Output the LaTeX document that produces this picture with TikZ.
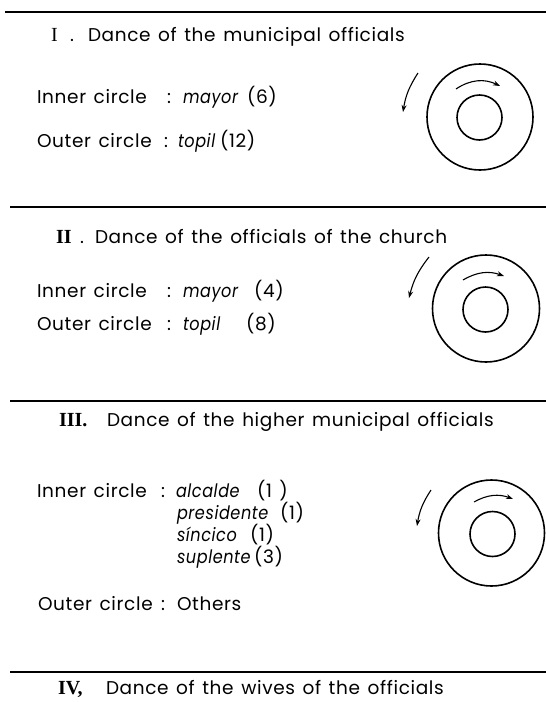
\documentclass[tikz,border=0pt]{standalone}
\usepackage{graphicx}
\usepackage{fontspec}
\setmainfont{Poppins}[LetterSpace=3.5,WordSpace=1.35]
\newfontfamily\numfont{Liberation Serif}
\newcommand\iw[1]{\scalebox{0.87}[1]{\itshape #1}}
\usetikzlibrary{arrows.meta}
\begin{document}
\begin{tikzpicture}[x=1pt,y=-1pt,
  txt/.style={inner sep=0pt, outer sep=0pt, anchor=base west, font=\fontsize{18.5}{20}\selectfont},
  num/.style={inner sep=0pt, outer sep=0pt, anchor=base west, font=\fontsize{20}{22}\numfont},
  rule/.style={line width=1.4pt},
  ring/.style={draw, circle, line width=1.6pt, inner sep=0pt, outer sep=0pt},
  arr/.style={line width=1.1pt, -{Stealth[length=7pt,width=5pt]}}]
\useasboundingbox[fill=white] (0,0) rectangle (546,702);

% rules
\coordinate (l1a) at (5,12);   \coordinate (l1b) at (546,12);
\coordinate (l2a) at (10,207); \coordinate (l2b) at (546,207);
\coordinate (l3a) at (10,401); \coordinate (l3b) at (546,401);
\coordinate (l4a) at (10,672); \coordinate (l4b) at (546,672);
\draw[rule] (l1a) -- (l1b);
\draw[rule] (l2a) -- (l2b);
\draw[rule] (l3a) -- (l3b);
\draw[rule] (l4a) -- (l4b);

% Section I
\node[num] (n1) at (51,41) {I};
\node[txt] (n1d) at (70,41) {.};
\node[txt] (t1) at (88,41) {Dance of the municipal officials};
\node[txt] (i1) at (37,103) {Inner circle};
\node[txt] (i1c) at (167,103) {:};
\node[txt] (i1v) at (183,103) {\iw{mayor}};
\node[txt] (i1n) at (247,103) {(6)};
\node[txt] (o1) at (37,147) {Outer circle};
\node[txt] (o1c) at (164,147) {:};
\node[txt] (o1v) at (178,147) {\iw{topil}};
\node[txt] (o1n) at (220,147) {(12)};

\node[ring, minimum size=106pt] (c1o) at (480,117) {};
\node[ring, minimum size=45pt] (c1i) at (479.5,117.5) {};
\coordinate (a1s) at (456,89); \coordinate (a1e) at (500,86);
\draw[arr] (a1s) to[bend left=30] (a1e);
\coordinate (b1s) at (418,73); \coordinate (b1e) at (403,112);
\draw[arr] (b1s) to[bend right=12] (b1e);

% Section II
\node[num] (n2) at (56,243) {\bfseries II};
\node[txt] (n2d) at (80,243) {.};
\node[txt] (t2) at (95,243) {Dance of the officials of the church};
\node[txt] (i2) at (37,297) {Inner circle};
\node[txt] (i2c) at (167,297) {:};
\node[txt] (i2v) at (183,297) {\iw{mayor}};
\node[txt] (i2n) at (254,297) {(4)};
\node[txt] (o2) at (37,330) {Outer circle};
\node[txt] (o2c) at (167,330) {:};
\node[txt] (o2v) at (183,330) {\iw{topil}};
\node[txt] (o2n) at (246,330) {(8)};

\node[ring, minimum size=107pt] (c2o) at (486,308.5) {};
\node[ring, minimum size=45pt] (c2i) at (485.5,309.5) {};
\coordinate (a2s) at (463,280); \coordinate (a2e) at (504,276);
\draw[arr] (a2s) to[bend left=25] (a2e);
\coordinate (b2s) at (429,257); \coordinate (b2e) at (409,298);
\draw[arr] (b2s) to[bend right=12] (b2e);

% Section III
\node[num] (n3) at (59,426) {\bfseries III.};
\node[txt] (t3) at (107,426) {Dance of the higher municipal officials};
\node[txt] (i3) at (37,497) {Inner circle};
\node[txt] (i3c) at (161,497) {:};
\node[txt] (i3v1) at (176,497) {\iw{alcalde}};
\node[txt] (i3n1) at (257,497) {(1 )};
\node[txt] (i3v2) at (177,519) {\iw{presidente}};
\node[txt] (i3n2) at (280,519) {(1)};
\node[txt] (i3v3) at (177,541) {\iw{síncico}};
\node[txt] (i3n3) at (250,541) {(1)};
\node[txt] (i3v4) at (177,563) {\iw{suplente}};
\node[txt] (i3n4) at (254,563) {(3)};
\node[txt] (o3) at (38,610) {Outer circle};
\node[txt] (o3c) at (161,610) {:};
\node[txt] (o3v) at (177,610) {Others};

\node[ring, minimum size=106pt] (c3o) at (491.5,533) {};
\node[ring, minimum size=45pt] (c3i) at (492.5,534) {};
\coordinate (a3s) at (474,502); \coordinate (a3e) at (513,499);
\draw[arr] (a3s) to[bend left=25] (a3e);
\coordinate (b3s) at (431,490); \coordinate (b3e) at (417,526);
\draw[arr] (b3s) to[bend right=12] (b3e);

% Section IV
\node[num] (n4) at (58,694) {\bfseries IV,};
\node[txt] (t4) at (106,694) {Dance of the wives of the officials};
\end{tikzpicture}
\end{document}
